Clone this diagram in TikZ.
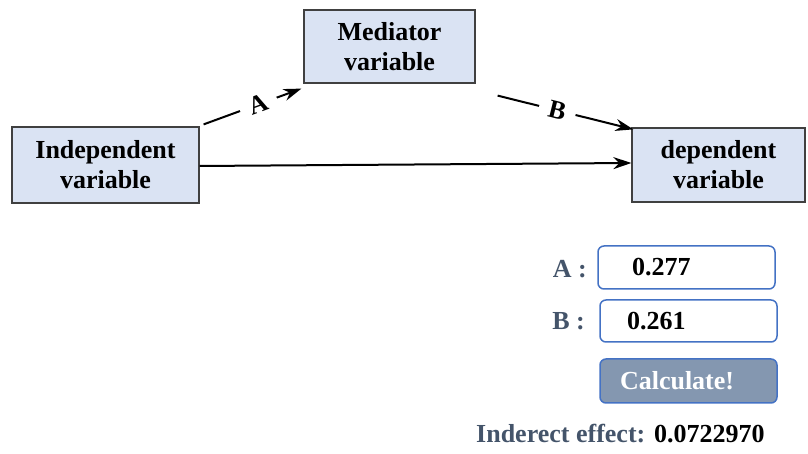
\documentclass[tikz,border=0pt]{standalone}
\usepackage{fontspec}
\setmainfont{Liberation Serif}
\usetikzlibrary{arrows.meta, calc}

\definecolor{boxfill}{HTML}{DAE3F3}
\definecolor{boxline}{HTML}{404040}
\definecolor{inputline}{HTML}{4472C4}
\definecolor{labelgray}{HTML}{44546A}
\definecolor{buttonfill}{HTML}{8497B0}

\tikzstyle{varbox} = [draw=boxline, line width=1.2pt, fill=boxfill, align=center, inner sep=0pt, font=\fontsize{26}{30}\selectfont\bfseries]
\tikzstyle{arrow} = [line width=2pt,-{Stealth[length=18pt,width=12pt]}]
\tikzstyle{coef} = [fill=white, sloped, inner xsep=10pt, inner ysep=1pt, font=\fontsize{26}{30}\selectfont\bfseries]
\tikzstyle{inputbox} = [draw=inputline, line width=1.5pt, rounded corners=6pt, align=left, font=\fontsize{26}{30}\selectfont\bfseries]
\tikzstyle{caption} = [text=labelgray, inner sep=0pt, font=\fontsize{26}{30}\selectfont\bfseries]

\begin{document}
\begin{tikzpicture}[x=1pt, y=1pt]
        \useasboundingbox (0,0) rectangle (808,454);

        \node at (105.5,289) [varbox, minimum width=187pt, minimum height=76pt] (indep) {Independent\\variable};
        \node at (389.5,407.5) [varbox, minimum width=171pt, minimum height=73pt] (med) {Mediator\\variable};
        \node at (718.5,289) [varbox, minimum width=173pt, minimum height=74pt] (dep) {dependent\\variable};

        \draw[arrow] ([shift={(4pt,2pt)}]indep.north east) -- node[coef, pos=0.56]{A} ([shift={(-2pt,-5pt)}]med.south west);
        \draw[arrow] ([shift={(22pt,-12pt)}]med.south east) -- node[coef, pos=0.44]{B} ([shift={(2pt,-2pt)}]dep.north west);
        \draw[arrow] ([yshift=-1pt]indep.east) -- ([yshift=2pt]dep.west);

        % inputs and result
        \node at (686.5,186.5) [inputbox, minimum height=43pt, inner xsep=34pt, text width=109pt] (boxA) {0.277};
        \node at (688.5,133) [inputbox, minimum height=42pt, inner xsep=27pt, text width=123pt] (boxB) {0.261};
        \node at (688.5,73) [inputbox, fill=buttonfill, text=white, minimum height=44pt, inner xsep=20pt, text width=137pt] (calc) {Calculate!};

        \node at (587,176) [caption, anchor=base east] (labA) {A :};
        \node at (585,124) [caption, anchor=base east] (labB) {B :};
        \node at (476,11) [caption, anchor=base west] (effect) {Inderect effect: \textcolor{black}{0.0722970}};

    \end{tikzpicture}
\end{document}
